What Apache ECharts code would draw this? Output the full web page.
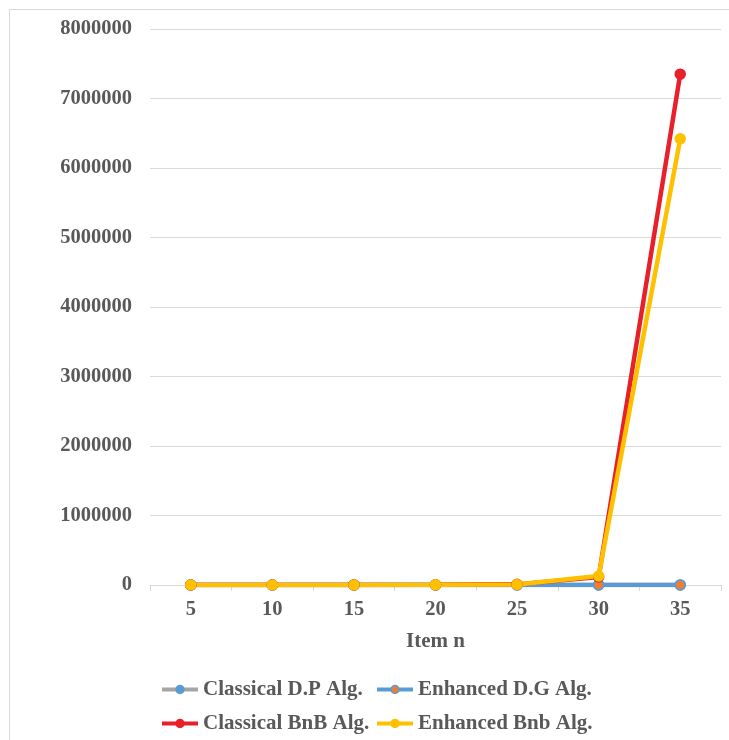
<!DOCTYPE html>
<html>
<head>
<meta charset="utf-8">
<style>
  html, body { margin: 0; padding: 0; background: #ffffff; }
  #chart { width: 729px; height: 740px; }
</style>
<script src="https://cdn.jsdelivr.net/npm/echarts@6/dist/echarts.min.js"></script>
</head>
<body>
<div id="chart"></div>
<script>
// Problem sizes on the x axis
const items = ['5', '10', '15', '20', '25', '30', '35'];

// Measured cost for each algorithm
const classicalDP = [25, 100, 225, 400, 625, 900, 1225];
const enhancedDG = [5, 10, 15, 20, 25, 30, 35];
const classicalBnB = [30, 220, 900, 2600, 9000, 115000, 7350000];
const enhancedBnb = [20, 150, 700, 2200, 7500, 130000, 6420000];

const seriesNames = ['Classical D.P Alg.', 'Enhanced D.G Alg.', 'Classical BnB Alg.', 'Enhanced Bnb Alg.'];

const textColor = '#595959';
const fontFamily = '"Liberation Serif", "Times New Roman", serif';

const chart = echarts.init(document.getElementById('chart'));

function lineSeries(name, data, lineColor, markerColor, markerBorder) {
  return {
    name: name,
    type: 'line',
    data: data,
    symbol: 'circle',
    symbolSize: 10,
    lineStyle: { color: lineColor, width: 4.5 },
    itemStyle: { color: markerColor, borderColor: markerBorder, borderWidth: 1.5 },
    emphasis: { disabled: true },
    animation: false
  };
}

const legendText = { color: textColor, fontFamily: fontFamily, fontWeight: 'bold', fontSize: 21 };

// one legend block per entry so each sits where it belongs in the 2x2 key
function legendAt(name, left, top) {
  return {
    data: [name],
    left: left, top: top,
    itemWidth: 36, itemHeight: 10,
    itemStyle: { borderWidth: 1.5 },
    lineStyle: { width: 4 },
    textStyle: legendText
  };
}

chart.setOption({
  backgroundColor: '#ffffff',
  graphic: [{
    type: 'rect',
    shape: { x: 9.5, y: 9.5, width: 740, height: 760 },
    style: { fill: 'none', stroke: '#d9d9d9', lineWidth: 1 },
    silent: true
  }],
  grid: { left: 150, right: 8, top: 29, bottom: 155, containLabel: false },
  legend: [
    legendAt(seriesNames[0], 155, 674),
    legendAt(seriesNames[1], 370, 674),
    legendAt(seriesNames[2], 155, 708),
    legendAt(seriesNames[3], 370, 708)
  ],
  xAxis: {
    type: 'category',
    data: items,
    boundaryGap: true,
    name: 'Item n',
    nameLocation: 'middle',
    nameGap: 46,
    nameTextStyle: { color: textColor, fontFamily: fontFamily, fontWeight: 'bold', fontSize: 21 },
    axisLine: { lineStyle: { color: '#d9d9d9', width: 1 } },
    axisTick: { show: true, length: 6, lineStyle: { color: '#d9d9d9' } },
    axisLabel: { color: textColor, fontFamily: fontFamily, fontWeight: 'bold', fontSize: 20.5, margin: 14 }
  },
  yAxis: {
    type: 'value',
    min: 0,
    max: 8000000,
    interval: 1000000,
    axisLine: { show: false },
    axisTick: { show: false },
    splitLine: { lineStyle: { color: '#d9d9d9', width: 1 } },
    axisLabel: {
      color: textColor, fontFamily: fontFamily, fontWeight: 'bold', fontSize: 20.5, margin: 18,
      formatter: function (v) { return String(v); }
    }
  },
  series: [
    lineSeries(seriesNames[0], classicalDP, '#a5a5a5', '#5b9bd5', '#5b9bd5'),
    lineSeries(seriesNames[1], enhancedDG, '#5b9bd5', '#ed7d31', '#5b9bd5'),
    lineSeries(seriesNames[2], classicalBnB, '#e8202a', '#e8202a', '#e8202a'),
    lineSeries(seriesNames[3], enhancedBnb, '#ffc000', '#ffc000', '#ffc000')
  ]
});
</script>
</body>
</html>
